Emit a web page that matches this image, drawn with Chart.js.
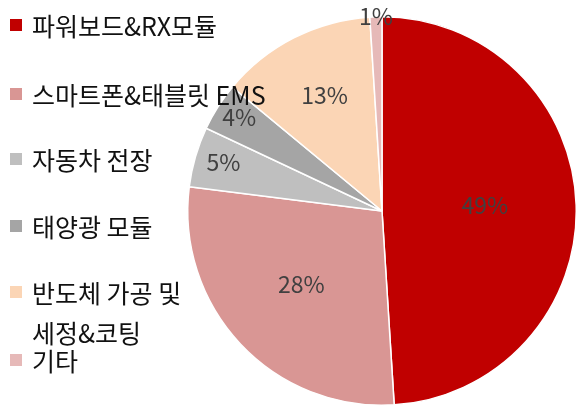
<!DOCTYPE html>
<html>
<head>
<meta charset="utf-8">
<script src="https://cdn.jsdelivr.net/npm/chart.js@4"></script>
<style>
  html, body { margin: 0; padding: 0; background: #fff; }
  #wrap { position: relative; width: 577px; height: 410px; overflow: hidden; }
  #legend { position: absolute; left: 0; top: 0; font-family: "Noto Sans CJK KR", sans-serif; font-size: 25px; color: #111; }
  .item { position: absolute; left: 10px; white-space: nowrap; line-height: 40px; }
  .box { position: absolute; left: 0; top: 14px; width: 12px; height: 12px; }
  .txt { position: absolute; left: 22px; top: 0; }
</style>
</head>
<body>
<div id="wrap">
  <canvas id="pieChart" width="577" height="410"></canvas>
  <div id="legend"></div>
</div>
<script>
// segment names, shares (%) and colours
const labels = ['파워보드&RX모듈', '스마트폰&태블릿 EMS', '자동차 전장', '태양광 모듈', '반도체 가공 및\n세정&코팅', '기타'];
const shares = [49, 28, 5, 4, 13, 1];
const colors = ['#C00000', '#D99694', '#BFBFBF', '#A5A5A5', '#FBD5B5', '#E6B9B8'];

// legend rows (top of each row)
const legendTops = [5, 74, 139, 206, 272, 340];
const legend = document.getElementById('legend');
labels.forEach((name, i) => {
  const row = document.createElement('div');
  row.className = 'item';
  row.style.top = legendTops[i] + 'px';
  const lines = name.split('\n');
  row.innerHTML = '<div class="box" style="background:' + colors[i] + '"></div>' +
    '<div class="txt">' + lines.join('<br>') + '</div>';
  legend.appendChild(row);
});

// draws "xx%" inside each slice at a per-slice fraction of the radius
const pctLabels = {
  id: 'pctLabels',
  afterDatasetsDraw(chart, args, opts) {
    const ctx = chart.ctx;
    const meta = chart.getDatasetMeta(0);
    ctx.save();
    ctx.font = '23px "Noto Sans CJK KR", sans-serif';
    ctx.fillStyle = '#404040';
    ctx.textAlign = 'center';
    ctx.textBaseline = 'middle';
    meta.data.forEach((arc, i) => {
      const mid = (arc.startAngle + arc.endAngle) / 2;
      const r = arc.outerRadius * opts.fractions[i];
      const x = arc.x + Math.cos(mid) * r;
      const y = arc.y + Math.sin(mid) * r - 3;
      ctx.fillText(shares[i] + '%', x, y);
    });
    ctx.restore();
  }
};

const ctx = document.getElementById('pieChart').getContext('2d');
new Chart(ctx, {
  type: 'pie',
  data: {
    labels: labels,
    datasets: [{
      data: shares,
      backgroundColor: colors,
      borderColor: '#ffffff',
      borderWidth: 1.5
    }]
  },
  options: {
    responsive: false,
    animation: false,
    layout: { padding: { left: 187, right: 0, top: 14, bottom: 2 } },
    plugins: {
      legend: { display: false },
      tooltip: { enabled: false },
      pctLabels: { fractions: [0.53, 0.57, 0.85, 0.87, 0.65, 0.99] }
    }
  },
  plugins: [pctLabels]
});
</script>
</body>
</html>
